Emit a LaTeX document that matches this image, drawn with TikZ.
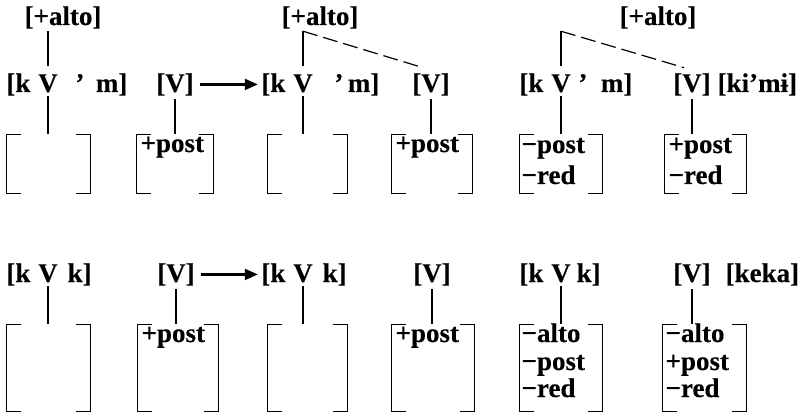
\documentclass[tikz,border=0pt]{standalone}
\usepackage{fontspec}
\setmainfont{Liberation Serif}[BoldFeatures={FakeBold=0.3}]
\usetikzlibrary{arrows.meta,calc}
\newcommand\drawbrk[1]{%
  \draw ([xshift=15pt]#1.north west) -- (#1.north west) -- (#1.south west) -- ([xshift=15pt]#1.south west);
  \draw ([xshift=-15pt]#1.north east) -- (#1.north east) -- (#1.south east) -- ([xshift=-15pt]#1.south east);}
\begin{document}
\begin{tikzpicture}[x=1pt,y=-1pt,line width=1.2pt,
  every node/.style={inner sep=0pt,font=\bfseries\fontsize{27}{32}\selectfont},
  txt/.style={anchor=base},
  txtl/.style={anchor=base west},
  txtr/.style={anchor=base east},
  brk/.style={rectangle,draw=none,inner sep=0pt},
  arr/.style={line width=2.2pt,-{Triangle[length=13pt,width=11pt]}},
  dsh/.style={dash pattern=on 15pt off 6pt}]
\useasboundingbox (0,0) rectangle (812,417);
% ---------- top row ----------
\node[txt] (alto1) at (63,25) {[+alto]};
\node[txt] (alto2) at (320,25) {[+alto]};
\node[txt] (alto3) at (658,25) {[+alto]};
% panel 1
\node[txtr] (k1) at (31,92) {[k};
\node[txt] (V1) at (48,92) {V};
\node[txt] (ap1) at (80,92) {’};
\node[txtr] (m1) at (128,92) {m]};
\node[txt] (vv1) at (175,92) {[V]};
% panel 2
\node[txtr] (k2) at (286,92) {[k};
\node[txt] (V2) at (303,92) {V};
\node[txt] (ap2) at (339,92) {’};
\node[txtr] (m2) at (380,92) {m]};
\node[txt] (vv2) at (431,92) {[V]};
% panel 3
\node[txtr] (k3) at (544,92) {[k};
\node[txt] (V3) at (561,92) {V};
\node[txt] (ap3) at (583,92) {’};
\node[txtr] (m3) at (633,92) {m]};
\node[txt] (vv3) at (692,92) {[V]};
\node[txtl] (kimi) at (717,92) {[ki’mɨ]};
% brackets top
\node[brk,minimum width=83pt,minimum height=58pt] (b1) at (48.5,164) {};
\node[brk,minimum width=76pt,minimum height=58pt] (p1) at (175,164) {};
\node[brk,minimum width=79pt,minimum height=58pt] (b2) at (307.5,164) {};
\node[brk,minimum width=80pt,minimum height=58pt] (p2) at (432,164) {};
\node[brk,minimum width=82pt,minimum height=58pt] (c3) at (561,164) {};
\node[brk,minimum width=81pt,minimum height=58pt] (d3) at (705.5,164) {};
\drawbrk{b1}\drawbrk{p1}\drawbrk{b2}\drawbrk{p2}\drawbrk{c3}\drawbrk{d3}
\node[txtl] at (140,152) {+post};
\node[txtl] at (395,152) {+post};
\node[txtl] at (521,153) {−post};
\node[txtl] at (521,184) {−red};
\node[txtl] at (668,153) {+post};
\node[txtl] at (668,184) {−red};
% connectors top
\draw ($(alto1.south -| V1)+(0,2)$) -- ($(V1.north)+(0,-8)$);
\draw ($(alto2.south -| V2)+(0,2)$) coordinate (c2) -- ($(V2.north)+(0,-8)$);
\draw[dsh] (c2) -- ($(vv2.north)+(-8,-5)$);
\draw ($(alto3.south -| V3)+(0,2)$) coordinate (c3t) -- ($(V3.north)+(0,-8)$);
\draw[dsh] (c3t) -- ($(vv3.north)+(-8,-5)$);
\foreach \a/\b in {V1/b1,vv1/p1,V2/b2,vv2/p2,V3/c3,vv3/d3}
  \draw ($(\a.south)+(0,3)$) -- (\a.south |- \b.north);
\draw[arr] ([xshift=6pt]vv1.east) -- ([xshift=-3pt]k2.west);
% ---------- bottom row ----------
\node[txtr] (bk1) at (31,282) {[k};
\node[txt] (bV1) at (48,282) {V};
\node[txtl] (bkk1) at (67,282) {k]};
\node[txt] (bvv1) at (176,282) {[V]};
\node[txtr] (bk2) at (286,282) {[k};
\node[txt] (bV2) at (303,282) {V};
\node[txtl] (bkk2) at (322,282) {k]};
\node[txt] (bvv2) at (432,282) {[V]};
\node[txtr] (bk3) at (544,282) {[k};
\node[txt] (bV3) at (561,282) {V};
\node[txtl] (bkk3) at (576,282) {k]};
\node[txt] (bvv3) at (692,282) {[V]};
\node[txtl] (keka) at (725,282) {[keka]};
\node[brk,minimum width=83pt,minimum height=86pt] (e1) at (48.5,368) {};
\node[brk,minimum width=80pt,minimum height=86pt] (f1) at (178,368) {};
\node[brk,minimum width=79pt,minimum height=86pt] (e2) at (307.5,368) {};
\node[brk,minimum width=82pt,minimum height=86pt] (f2) at (433,368) {};
\node[brk,minimum width=82pt,minimum height=86pt] (g3) at (561,368) {};
\node[brk,minimum width=83pt,minimum height=86pt] (h3) at (704.5,368) {};
\drawbrk{e1}\drawbrk{f1}\drawbrk{e2}\drawbrk{f2}\drawbrk{g3}\drawbrk{h3}
\node[txtl] at (141,342) {+post};
\node[txtl] at (395,342) {+post};
\node[txtl] at (521,342) {−alto};
\node[txtl] at (521,370) {−post};
\node[txtl] at (521,397) {−red};
\node[txtl] at (665,342) {−alto};
\node[txtl] at (665,370) {+post};
\node[txtl] at (665,397) {−red};
\foreach \a/\b in {bV1/e1,bvv1/f1,bV2/e2,bvv2/f2,bV3/g3,bvv3/h3}
  \draw ($(\a.south)+(0,3)$) -- (\a.south |- \b.north);
\draw[arr] ([xshift=6pt]bvv1.east) -- ([xshift=-3pt]bk2.west);
\end{tikzpicture}
\end{document}
